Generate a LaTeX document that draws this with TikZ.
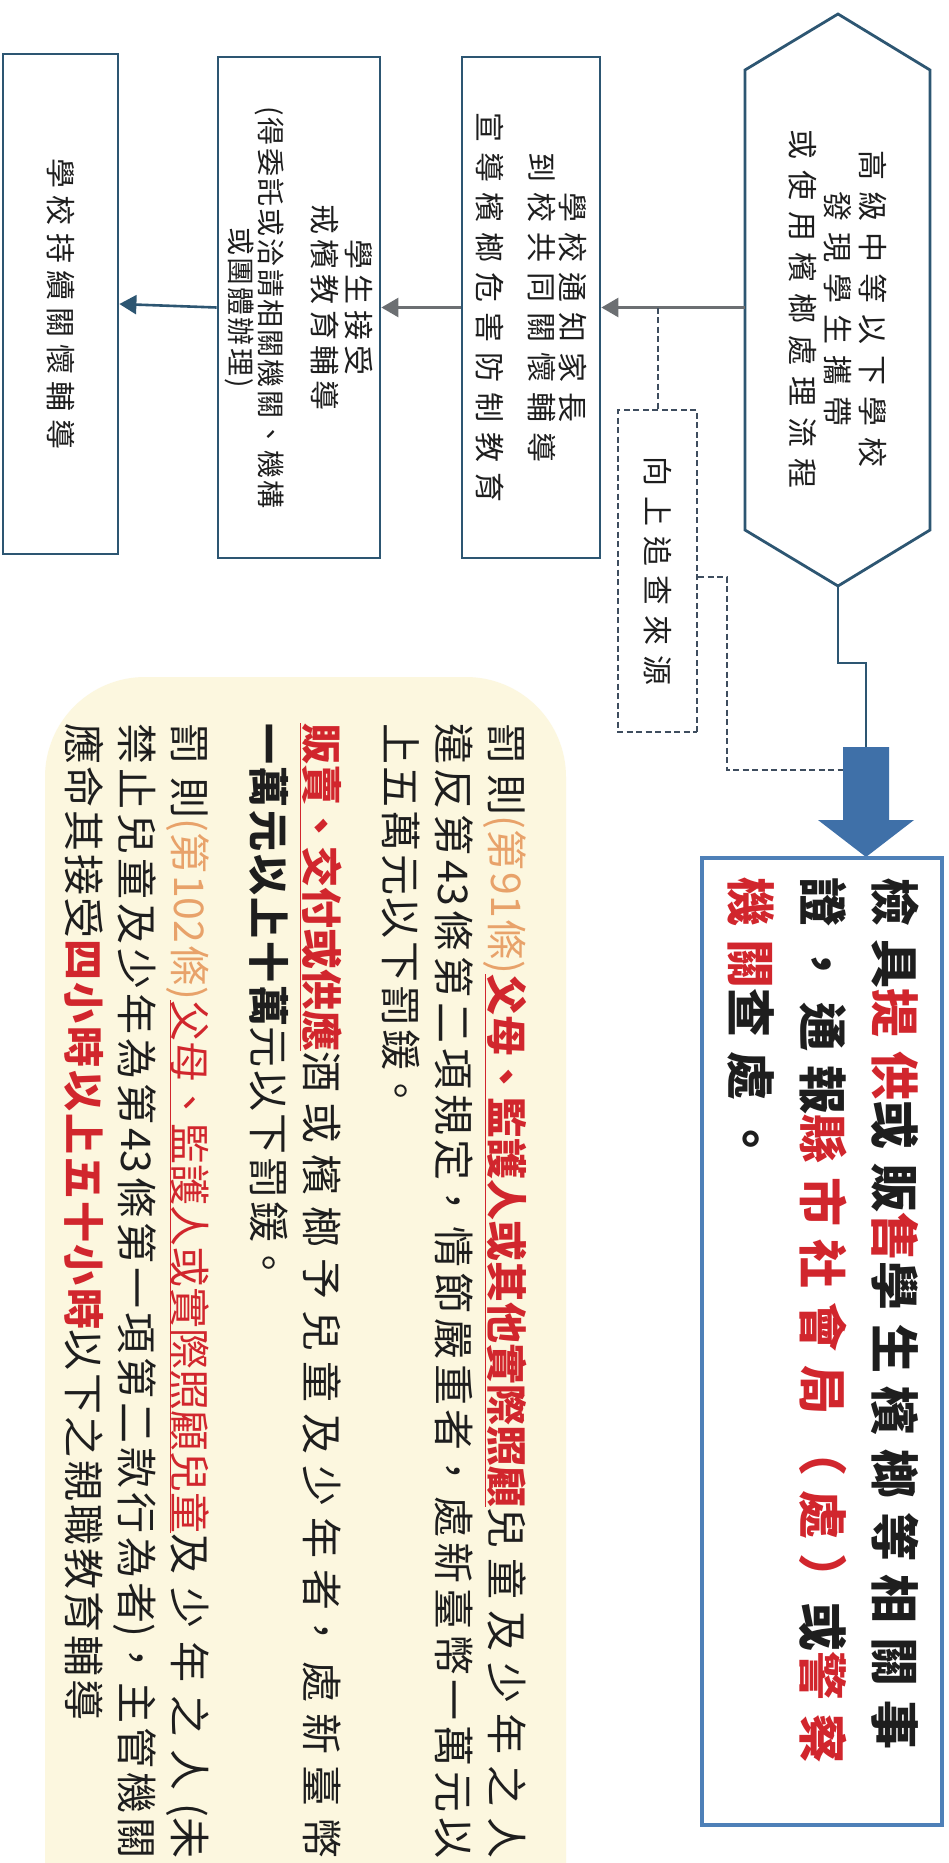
\documentclass[tikz,border=0pt]{standalone}
\usepackage{fontspec}
\usetikzlibrary{arrows.meta}
\newfontfamily\tcA{Noto Sans CJK TC}[LetterSpace=33]
\newfontfamily\tcH{Noto Sans CJK TC}[LetterSpace=37]
\newfontfamily\tcB{Noto Sans CJK TC}[LetterSpace=17]
\newfontfamily\tcC{Noto Sans CJK TC}[LetterSpace=24]
\newfontfamily\tcS{Noto Sans CJK TC}[LetterSpace=8]
\newfontfamily\tcBig{Noto Sans CJK TC}[LetterSpace=28]
\newfontfamily\tcY{Noto Sans CJK TC}
\definecolor{frame}{HTML}{2D5672}
\definecolor{agray}{HTML}{6C6F72}
\definecolor{fatblue}{HTML}{3F70A8}
\definecolor{boxblue}{HTML}{4E80B8}
\definecolor{redt}{HTML}{D1262D}
\definecolor{orat}{HTML}{E8A26A}
\definecolor{ybg}{HTML}{FCF7DF}
\definecolor{dashc}{HTML}{3E4D5E}
\definecolor{ink}{HTML}{1E1E1E}
\newcommand{\rul}[1]{\underline{#1}}
\newcommand{\yjust}{\XeTeXlinebreaklocale "zh"\XeTeXlinebreakskip=2.7pt plus 15pt minus 2pt\relax\tolerance=10000\hbadness=10000\hfuzz=20pt\relax}
\newcommand{\artno}[1]{{\XeTeXlinebreakskip=0pt plus 3pt\relax\color{orat}#1}}
\begin{document}
\begin{tikzpicture}[x=1pt,y=-1pt,
  flowbox/.style={draw=frame, line width=2.8pt, rotate=-90, inner sep=0pt, align=center, text=ink},
  flowtext/.style={rotate=-90, inner sep=0pt, align=center, text=ink},
  grayarrow/.style={draw=agray, line width=2.6pt, -{Triangle[length=17pt,width=19pt]}},
  bluearrow/.style={draw=frame, line width=2.6pt, -{Triangle[length=17pt,width=19pt]}},
  dashline/.style={draw=dashc, line width=2pt, dash pattern=on 6pt off 3.5pt},
  ypar/.style={rotate=-90, inner sep=0pt, anchor=north west, text width=1135pt, align=justify, text=ink, font=\tcY\fontsize{41}{53}\selectfont}
]
\useasboundingbox (0,0) rectangle (948,1863);
\fill[white] (0,0) rectangle (948,1863);
\fill[ybg, rounded corners=100pt] (45,677) rectangle (566,2000);

% hexagon
\coordinate (hT) at (838,14);
\coordinate (hTR) at (930,70);
\coordinate (hBR) at (930,530);
\coordinate (hB) at (838,586);
\coordinate (hBL) at (745,530);
\coordinate (hTL) at (745,70);
\draw[frame, line width=2.8pt, line join=miter] (hT) -- (hTR) -- (hBR) -- (hB) -- (hBL) -- (hTL) -- cycle;
\node[flowtext, font=\tcH\fontsize{30}{35}\selectfont] (hex) at (838,309) {高級中等以下學校\\發現學生攜帶\\或使用檳榔處理流程};
\coordinate (hexL) at (745,307.5);

% boxes
\node[flowbox, minimum width=501pt, minimum height=138pt, font=\tcA\fontsize{30}{31}\selectfont] (b1) at (531,307.5) {學校通知家長\\到校共同關懷輔導\\[21pt]宣導檳榔危害防制教育};
\node[flowbox, minimum width=501pt, minimum height=162pt, font=\tcB\fontsize{30}{34}\selectfont] (b2) at (299,307.5) {學生接受\\戒檳教育輔導\\[19pt]{\tcS\fontsize{28}{30}\selectfont (得委託或洽請相關機關、機構}\\[-4pt]{\tcS\fontsize{28}{30}\selectfont 或團體辦理)}};
\node[flowbox, minimum width=500pt, minimum height=115pt, font=\tcC\fontsize{30}{34}\selectfont] (b3) at (60.5,304) {學校持續關懷輔導};

\draw[grayarrow] (hexL) -- (b1.north);
\draw[grayarrow] (b1.south) -- (b2.north);
\draw[bluearrow] (b2.south) -- (b3.north);

% dashed source box
\coordinate (dtop) at (657.5,307.5);
\node[draw=dashc, line width=2pt, dash pattern=on 6pt off 3.5pt, rotate=-90, minimum width=322pt, minimum height=79pt, inner sep=0pt, text=ink, font=\tcA\fontsize{30}{34}\selectfont] (src) at (657.5,571) {向上追查來源};
\draw[dashline] (dtop) -- (src.west);

% fat arrow and report box
\coordinate (fatTop) at (866,747);
\coordinate (fatL) at (843,770);
\coordinate (fatTip) at (866,857);
\fill[fatblue] (843,747) -- (889,747) -- (889,820) -- (914,820) -- (fatTip) -- (818,820) -- (843,820) -- cycle;
\draw[frame, line width=2.6pt] (hB) -- (838,663) -- (866,663) -- (fatTop);
\draw[dashline] ([yshift=-6pt]src.north) -- (727,577) -- (727,770) -- (fatL);

\node[draw=boxblue, line width=3.5pt, rotate=-90, minimum width=967pt, minimum height=240pt, inner sep=0pt] (rep) at (822,1341.5) {};
\node[rotate=-90, anchor=west, inner sep=0pt, align=left, text=ink, font=\tcBig\bfseries\fontsize{49}{72}\selectfont] (reptext) at (823,877) {檢具{\color{redt}提供}或販{\color{redt}售}學生檳榔等相關事\\證，通報{\color{redt}縣市社會局（處）}或{\color{redt}警察}\\{\color{redt}機關}查處。};

% yellow notes
\node[ypar] (p1) at (527,723) {\yjust 罰則\artno{(第91條)}{\color{redt}\rul{\bfseries 父母、監護人或其他實際照顧}}兒童及少年之人\linebreak 違反第43條第二項規定，情節嚴重者，處新臺幣一萬元以\linebreak 上五萬元以下罰鍰。};
\node[ypar] (p2) at (342,723) {\yjust {\color{redt}\rul{\bfseries 販賣、交付或供應}}酒或檳榔予兒童及少年者，處新臺幣\linebreak {\bfseries 一萬元以上十萬}元以下罰鍰。};
\node[ypar] (p3) at (210,723) {\yjust 罰則\artno{(第102條)}{\color{redt}\rul{父母、監護人或實際照顧兒童}}及少年之人(未\linebreak 禁止兒童及少年為第43條第一項第二款行為者)，主管機關\linebreak 應命其接受{\color{redt}\bfseries 四小時以上五十小時}以下之親職教育輔導};
\end{tikzpicture}
\end{document}
